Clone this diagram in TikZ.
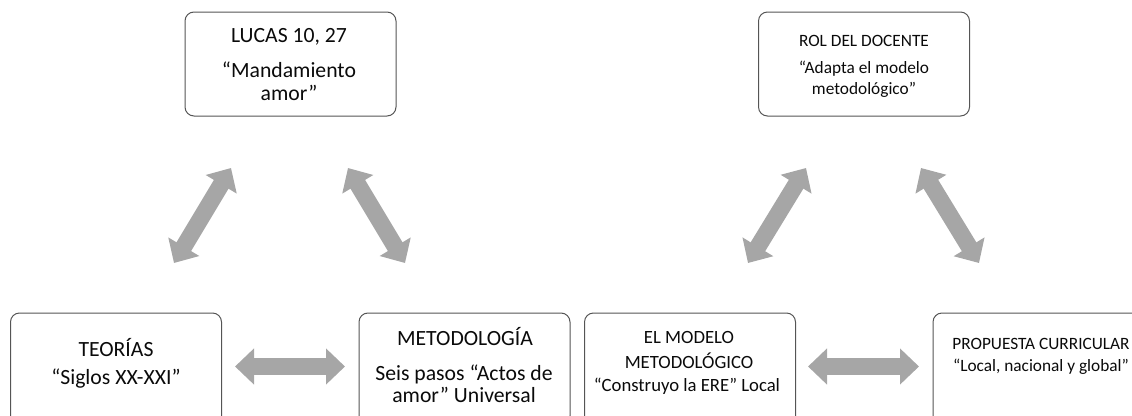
\documentclass[tikz,border=0pt]{standalone}
\usepackage{fontspec}
\setmainfont{Carlito}
\usetikzlibrary{arrows.meta}
\definecolor{boxline}{RGB}{85,85,85}
\definecolor{arrowgray}{RGB}{166,166,166}
\definecolor{txt}{RGB}{10,10,10}
\begin{document}
\begin{tikzpicture}[x=1pt,y=-1pt,
  box/.style={draw=boxline, line width=1pt, rounded corners=9pt, minimum width=211pt, minimum height=104pt, inner sep=0pt},
  lowbox/.style={box, minimum height=112pt},
  bigtxt/.style={font=\fontsize{21.7}{24}\selectfont, text=txt, inner sep=0pt, anchor=base},
  midtxt/.style={font=\fontsize{18.7}{22}\selectfont, text=txt, inner sep=0pt, anchor=base},
  smalltxt/.style={font=\fontsize{17.3}{20}\selectfont, text=txt, inner sep=0pt, anchor=base},
  dbl/.style={draw=arrowgray, line width=17pt,
    {Triangle[width=35pt,length=19pt]}-{Triangle[width=35pt,length=19pt]}}]
\useasboundingbox (0,0) rectangle (1132,415);
\clip (0,0) rectangle (1132,415);

% boxes
\node[box] (lucas) at (290.5,64) {};
\node[lowbox] (teorias) at (116,369) {};
\node[lowbox] (metod) at (464.5,369) {};
\node[box] (rol) at (864,64) {};
\node[lowbox] (modelo) at (690,369) {};
\node[lowbox] (propuesta) at (1038.5,369) {};

% texts left triangle
\node[bigtxt] (lucasA) at (289,42) {LUCAS 10, 27};
\node[bigtxt] (lucasB) at (289,77) {“Mandamiento};
\node[bigtxt] (lucasC) at (289,100) {amor”};
\node[bigtxt] (teoriasA) at (116,356) {TEORÍAS};
\node[bigtxt] (teoriasB) at (116,384) {“Siglos XX-XXI”};
\node[bigtxt] (metodA) at (465,345) {METODOLOGÍA};
\node[bigtxt] (metodB) at (464,380) {Seis pasos “Actos de};
\node[bigtxt] (metodC) at (464,402) {amor” Universal};

% texts right triangle
\node[smalltxt] (rolA) at (864,46) {ROL DEL DOCENTE};
\node[smalltxt] (rolB) at (864,73) {“Adapta el modelo};
\node[smalltxt] (rolC) at (864,94) {metodológico”};
\node[midtxt] (modeloA) at (689,343) {EL MODELO};
\node[midtxt] (modeloB) at (689,368) {METODOLÓGICO};
\node[midtxt] (modeloC) at (687,391) {“Construyo la ERE” Local};
\node[smalltxt] (propA) at (1041,349) {PROPUESTA CURRICULAR};
\node[smalltxt] (propB) at (1041,371) {“Local, nacional y global”};

% arrow end points
\coordinate (l1a) at (174,263); \coordinate (l1b) at (231,168);
\coordinate (l2a) at (348,168); \coordinate (l2b) at (405,263);
\coordinate (l3a) at (235,366.5); \coordinate (l3b) at (345,366.5);
\coordinate (r1a) at (748,263); \coordinate (r1b) at (806,168);
\coordinate (r2a) at (921,168); \coordinate (r2b) at (979,263);
\coordinate (r3a) at (808,366.5); \coordinate (r3b) at (919,366.5);

\draw[dbl] (l1a) -- (l1b);
\draw[dbl] (l2a) -- (l2b);
\draw[dbl] (l3a) -- (l3b);
\draw[dbl] (r1a) -- (r1b);
\draw[dbl] (r2a) -- (r2b);
\draw[dbl] (r3a) -- (r3b);
\end{tikzpicture}
\end{document}
